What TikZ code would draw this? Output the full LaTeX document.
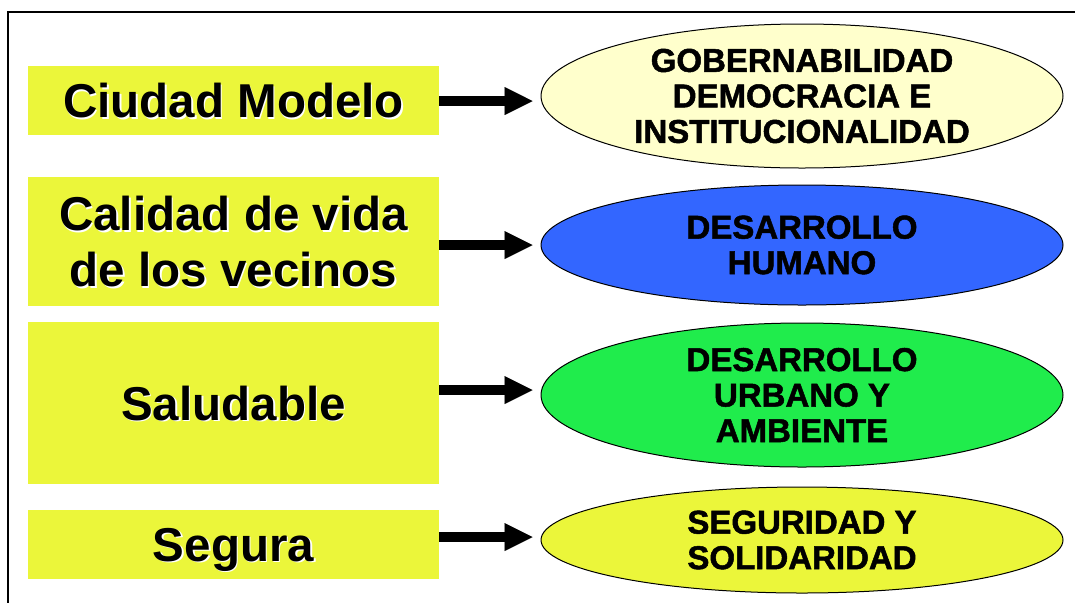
\documentclass[tikz,border=0pt]{standalone}
\usepackage{fontspec}
\setmainfont{Liberation Sans}
\newfontfamily\gruesa[FakeBold=1.5]{Liberation Sans Bold}
\usepackage{tikz}
\usetikzlibrary{arrows.meta,positioning,shapes.geometric,calc}

\definecolor{amarillo}{RGB}{235,246,58}
\definecolor{crema}{RGB}{255,255,204}
\definecolor{azul}{RGB}{51,102,255}
\definecolor{verde}{RGB}{32,236,76}

\tikzset{
  caja/.style={fill=amarillo, minimum width=411pt, inner sep=0pt},
  cajatexto/.style={font=\bfseries\fontsize{47.5}{56}\selectfont, align=center, text depth=0pt, inner sep=0pt},
  elipse/.style={ellipse, draw=black, line width=1pt, minimum width=522pt, inner sep=0pt},
  elipsetexto/.style={font=\gruesa\fontsize{33}{35.5}\selectfont, align=center, inner sep=0pt},
  sombra/.style={white, xshift=1.5pt, yshift=-1.5pt},
  flecha/.style={line width=10pt, -{Triangle[length=28pt,width=28pt,line width=0.01pt]}, shorten >=8pt}
}

\begin{document}
\begin{tikzpicture}[x=1pt,y=-1pt]
      \useasboundingbox (0,0) rectangle (1075,603);
      \draw[line width=2pt] (1075,12) -- (8,12) -- (8,603);

      % cajas de la izquierda
      \node[caja, minimum height=69pt] (ciudad) at (233.5,100.5) {};
      \node[caja, minimum height=129pt] (calidad) at (233.5,241.5) {};
      \node[caja, minimum height=162pt] (saludable) at (233.5,403) {};
      \node[caja, minimum height=69pt] (segura) at (233.5,544.5) {};

      \node[cajatexto, sombra] (ciudadS) at (ciudad) {Ciudad Modelo};
      \node[cajatexto] (ciudadT) at (ciudad) {Ciudad Modelo};
      \node[cajatexto, sombra] (calidadS) at (calidad) {Calidad de vida\\de los vecinos};
      \node[cajatexto] (calidadT) at (calidad) {Calidad de vida\\de los vecinos};
      \node[cajatexto, sombra] (saludableS) at (saludable) {Saludable};
      \node[cajatexto] (saludableT) at (saludable) {Saludable};
      \node[cajatexto, sombra] (seguraS) at (segura) {Segura};
      \node[cajatexto] (seguraT) at (segura) {Segura};

      % elipses de la derecha
      \node[elipse, fill=crema, minimum height=144pt] (gober) at (802,96) {};
      \node[elipse, fill=azul, minimum height=120pt] (humano) at (802,245) {};
      \node[elipse, fill=verde, minimum height=144pt] (urbano) at (802,395) {};
      \node[elipse, fill=amarillo, minimum height=106pt] (seguridad) at (802,540) {};

      \node[elipsetexto] (goberT) at (gober) {GOBERNABILIDAD\\DEMOCRACIA E\\INSTITUCIONALIDAD};
      \node[elipsetexto] (humanoT) at (humano) {DESARROLLO\\HUMANO};
      \node[elipsetexto] (urbanoT) at (urbano) {DESARROLLO\\URBANO Y\\AMBIENTE};
      \node[elipsetexto] (seguridadT) at (seguridad) {SEGURIDAD Y\\SOLIDARIDAD};

      % flechas
      \draw[flecha] (ciudad.east |- 0,101) -- (gober.west |- 0,101);
      \draw[flecha] (calidad.east |- 0,245) -- (humano.west |- 0,245);
      \draw[flecha] (saludable.east |- 0,390) -- (urbano.west |- 0,390);
      \draw[flecha] (segura.east |- 0,537) -- (seguridad.west |- 0,537);
\end{tikzpicture}
\end{document}
